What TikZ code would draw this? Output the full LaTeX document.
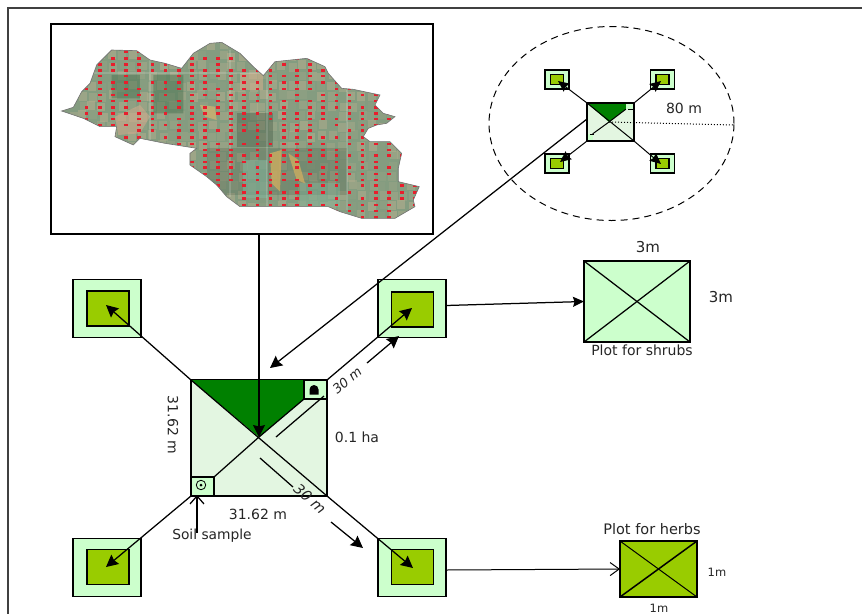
\documentclass[tikz,border=0pt]{standalone}
\usepackage{fontspec}
\setmainfont{DejaVu Sans}
\usetikzlibrary{arrows.meta,shapes.geometric}
\definecolor{plotlight}{HTML}{CCFFCC}
\definecolor{plotdark}{HTML}{99CC00}
\definecolor{mainlight}{HTML}{E3F6E1}
\definecolor{forest}{HTML}{008000}
\tikzset{
  x=1pt,y=-1pt,
  boxnode/.style={rectangle,inner sep=0pt,outer sep=0pt,draw=black},
  outerplot/.style={boxnode,fill=plotlight,line width=1.3pt,minimum width=#1},
  innerplot/.style={boxnode,fill=plotdark,line width=1.3pt,minimum width=#1},
  lbl/.style={inner sep=0pt,font=\fontsize{14}{16}\selectfont,text=black!85},
  smalllbl/.style={inner sep=0pt,font=\fontsize{14}{16}\selectfont,text=black!85},
  tinylbl/.style={inner sep=0pt,font=\fontsize{11.5}{13}\selectfont,text=black!85},
  conn/.style={draw=black,line width=1.25pt},
  arr/.style={conn,-{Stealth[length=12pt,width=12pt,inset=1.5pt]}},
  arrsmall/.style={conn,-{Stealth[length=11pt,width=10pt,inset=1.5pt]}},
  arropen/.style={conn,-{Straight Barb[length=9pt,width=13pt]}},
}
\begin{document}
\begin{tikzpicture}
\useasboundingbox (0,0) rectangle (862,614);
\fill[white] (0,0) rectangle (862,614);
% page frame (top and left only)
\draw[line width=1.2pt,black!75] (862,8) -- (8,8) -- (8,614);

% map frame
\node[boxnode,fill=white,line width=1.4pt,minimum width=382pt,minimum height=210pt] (mapframe) at (242,129) {};

% map
\begin{scope}[shift={(40,10)},x=0.3333pt,y=-0.3333pt]
\def\mapoutline{(65,303) -- (100,292) -- (125,245) -- (150,220) -- (170,165) -- (215,120) -- (290,122) -- (330,150) -- (375,160) -- (425,175) -- (460,130) -- (510,100) -- (545,97) -- (600,130) -- (640,170) -- (670,197) -- (705,155) -- (800,145) -- (855,170) -- (865,190) -- (905,235) -- (940,238) -- (1020,255) -- (1005,285) -- (1030,310) -- (1065,320) -- (1040,340) -- (1010,345) -- (985,355) -- (970,380) -- (990,395) -- (1050,395) -- (1085,430) -- (1075,475) -- (1075,515) -- (1138,530) -- (1120,570) -- (1125,590) -- (1065,625) -- (965,625) -- (900,605) -- (865,590) -- (600,590) -- (560,560) -- (530,525) -- (500,500) -- (450,465) -- (450,430) -- (470,415) -- (375,400) -- (300,385) -- (280,405) -- (225,380) -- (230,350) -- (180,350) -- (130,325) -- cycle}
\begin{scope}
\clip \mapoutline;
\fill[color={rgb,255:red,132;green,156;blue,128}] (50,90) rectangle (1150,630);
\pgfmathsetseed{17}
\foreach \cx in {50,80,...,1130}{\foreach \cy in {90,120,...,610}{
  \pgfmathsetmacro{\mx}{rnd*0.5}
  \pgfmathsetmacro{\px}{\cx+rnd*10}
  \pgfmathsetmacro{\py}{\cy+rnd*10}
  \fill[color={rgb,255:red,190;green,178;blue,145},opacity=\mx] (\px,\py) rectangle ++(24,26);
}}
\fill[color={rgb,255:red,60;green,105;blue,70},opacity=.4] (215,195) rectangle (300,265) (340,195) rectangle (430,310);
\fill[color={rgb,255:red,70;green,90;blue,70},opacity=.4] (590,310) rectangle (700,410);
\fill[color={rgb,255:red,60;green,75;blue,60},opacity=.22] (500,415) rectangle (920,555);
\fill[color={rgb,255:red,215;green,180;blue,110},opacity=.7] (480,285) -- (525,290) -- (530,330) -- (495,320) -- cycle;
\fill[color={rgb,255:red,210;green,175;blue,95},opacity=.75] (690,430) -- (725,420) -- (720,545) -- (695,520) -- cycle;
\fill[color={rgb,255:red,210;green,175;blue,95},opacity=.75] (745,430) -- (775,450) -- (795,520) -- (770,510) -- cycle;
\fill[color={rgb,255:red,205;green,170;blue,140},opacity=.6] (225,320) -- (300,285) -- (330,320) -- (300,370) -- (235,375) -- cycle;
\fill[color={rgb,255:red,130;green,185;blue,160},opacity=.5] (610,450) rectangle (680,565);
\fill[color={rgb,255:red,130;green,185;blue,160},opacity=.4] (780,520) rectangle (900,590);
\fill[color={rgb,255:red,205;green,175;blue,140},opacity=.6] (600,190) rectangle (670,240);
\draw[white,opacity=.15,line width=2pt] (330,100) -- (330,400) (570,120) -- (570,560) (920,240) -- (920,600) (60,190) -- (680,190) (680,190) -- (680,600);
\pgfmathsetseed{5}
\foreach \col [count=\i] in {140,180,219,259,298,338,377,417,456,495,535,574,613,653,692,732,771,811,850,890,929,968,1008,1047,1087,1126}{
 \foreach \row [count=\j] in {125,145,163,182,198,217,237,255,273,293,310,327,345,362,382,402,420,437,456,473,492,510,527,547,566,585,603,622}{
  \pgfmathtruncatemacro{\dotskip}{rnd<0.17 ? 1 : 0}
  \ifnum\dotskip=0
    \fill[color={rgb,255:red,232;green,30;blue,45}] (\col-5.5,\row-4) rectangle (\col+5.5,\row+4);
  \fi
 }
}
\end{scope}
\draw[black!55,line width=.6pt] \mapoutline;
\end{scope}

% central plot
\node[boxnode,fill=mainlight,line width=1.4pt,minimum width=136pt,minimum height=116pt] (main) at (259,438) {};
\fill[forest] (main.north west) -- (259,437) -- (304,399) -- (304,380) -- cycle;
\node[boxnode,fill=plotlight,line width=1.1pt,minimum width=23pt,minimum height=19pt] (nesq) at (315.5,389.5) {};
\node[boxnode,fill=plotlight,line width=1.1pt,minimum width=23pt,minimum height=19pt] (swsq) at (202.5,486.5) {};
\coordinate (mc) at (259,437);
\draw[conn] (main.north west) -- (main.south east);
\draw[conn] (mc) -- (nesq.south west);
\draw[conn] (mc) -- (swsq.north east);
\fill[black] (309.5,394.5) -- (309.5,389.5) arc[start angle=180,end angle=0,x radius=4.5pt,y radius=4.5pt] -- (318.5,394.5) -- cycle;
\node[circle,draw=black,line width=.8pt,inner sep=0pt,minimum size=9.5pt] (ring) at (201,485) {};
\node[circle,fill=black,inner sep=0pt,minimum size=3pt] (ringdot) at (201,485) {};

% satellite plots
\foreach \n/\ox/\oy/\ix/\iy in {nw/107/308.5/108/308.5, sw/107/567.5/108/567, ne/412/308.5/412.5/309.5, se/412/567.5/412.5/567}{
  \node[outerplot=68pt,minimum height=58pt] (\n out) at (\ox,\oy) {};
  \node[innerplot=42pt,minimum height=35pt] (\n in) at (\ix,\iy) {};
}
\coordinate (nwtip) at (106,305);
\coordinate (swtip) at (106,567);
\coordinate (netip) at (412,308);
\coordinate (setip) at (413,568);
\draw[arr] (main.north west) -- (nwtip);
\draw[arr] (main.south west) -- (swtip);
\draw[arr] (main.north east) -- (netip);
\draw[arr] (main.south east) -- (setip);

% short distance marks
\coordinate (a1s) at (367,363); \coordinate (a1e) at (399,336);
\coordinate (a2s) at (331,522); \coordinate (a2e) at (363,548);
\coordinate (l1s) at (276,437); \coordinate (l1e) at (324,396);
\coordinate (l2s) at (260,458); \coordinate (l2e) at (293,487);
\draw[arr] (a1s) -- (a1e);
\draw[arr] (a2s) -- (a2e);
\draw[conn] (l1s) -- (l1e);
\draw[conn] (l2s) -- (l2e);

% shrubs plot
\node[boxnode,fill=plotlight,line width=2.2pt,minimum width=106pt,minimum height=81pt] (shrub) at (637,301.5) {};
\draw[conn] (shrub.north west) -- (shrub.south east);
\draw[conn] (shrub.south west) -- (shrub.north east);
\draw[conn,-{Stealth[length=11pt,width=10pt,inset=1.5pt]}] (neout.east) ++(0,-3) -- (shrub.west);

% herbs plot
\node[boxnode,fill=plotdark,line width=2.4pt,minimum width=77pt,minimum height=56pt] (herb) at (658.5,569) {};
\draw[line width=1pt] (herb.north west) -- (herb.south east);
\draw[line width=1.5pt] (herb.south west) -- (herb.north east);
\draw[arropen,line width=1pt] (seout.east) ++(0,2.5) -- (herb.west);

% inset ellipse
\node[ellipse,draw=black,line width=1pt,minimum width=245pt,minimum height=194pt,inner sep=0pt,dash pattern=on 7pt off 5pt] (zone) at (611.5,123.5) {};
\node[boxnode,fill=mainlight,line width=1.1pt,minimum width=47pt,minimum height=38pt] (mini) at (610.5,122) {};
\coordinate (minic) at (609,122);
\fill[forest] (mini.north west) -- (minic) -- (626,109) -- (626,103) -- cycle;
\node[rectangle,fill=plotlight,inner sep=0pt,minimum width=8pt,minimum height=6pt] (minine) at (630,106) {};
\node[rectangle,fill=plotlight,inner sep=0pt,minimum width=5pt,minimum height=7pt] (minisw) at (590,137.5) {};
\draw[line width=1pt] (mini.north west) -- (mini.south east);
\draw[line width=1pt] (minic) -- (minisw.north east);
\draw[line width=1pt] (minic) -- (minine.south west);
\draw[line width=1.1pt] (mini.north west) rectangle (mini.south east);
\draw[line width=1pt] (628,103) -- (634,103) (628,109) -- (633,109) (590,134) -- (594,134);
\coordinate (zoneedge) at (734,125);
\draw[line width=1pt,dotted] (minic) -- (zoneedge);
\foreach \n/\cx/\cy in {mnw/557/79.5, mne/662.5/79.5, msw/557/163.5, mse/662.5/163.5}{
  \node[outerplot=24pt,minimum height=19pt,line width=1.1pt] (\n out) at (\cx,\cy) {};
  \node[innerplot=13pt,minimum height=10pt,line width=1.1pt] (\n in) at (\cx,\cy) {};
}
\coordinate (mnwtip) at (558,81);
\coordinate (mnetip) at (661,81);
\coordinate (mswtip) at (560,162);
\coordinate (msetip) at (661,164);
\draw[arrsmall,line width=1pt] (mini.north west) -- (mnwtip);
\draw[arrsmall,line width=1pt] (mini.north east) -- (mnetip);
\draw[arrsmall,line width=1pt] (mini.south west) -- (mswtip);
\draw[arrsmall,line width=1pt] (mini.south east) -- (msetip);

% long connectors
\coordinate (longs) at (587,119);
\coordinate (longe) at (270,368);
\draw[arr] (longs) -- (longe);
\draw[arr] (mapframe.south -| mc) -- (mc);

% soil sample
\coordinate (soils) at (197,533);
\draw[conn,-{Straight Barb[length=8pt,width=14pt]}] (soils) -- (197,495);

% labels
\node[lbl] (t1) at (684,108) {80 m};
\node[lbl,font=\fontsize{15}{17}\selectfont] (t2) at (648,247) {3m};
\node[lbl,font=\fontsize{15}{17}\selectfont] (t3) at (721,297) {3m};
\node[smalllbl] (t4) at (642,350) {Plot for shrubs};
\node[smalllbl,font=\fontsize{14.5}{16}\selectfont] (t5) at (652,529) {Plot for herbs};
\node[tinylbl] (t6) at (717,572) {1m};
\node[tinylbl] (t7) at (659,608) {1m};
\node[lbl] (t8) at (357,437) {0.1 ha};
\node[lbl] (t9) at (258,514) {31.62 m};
\node[lbl,rotate=-90] (t10) at (173,425) {31.62 m};
\node[smalllbl,font=\fontsize{13.8}{15}\selectfont] (t11) at (212,536) {Soil sample};
\node[lbl,rotate=40,font=\fontsize{13}{15}\selectfont\itshape] (t12) at (347,380) {30 m};
\node[lbl,rotate=-42,font=\fontsize{14.5}{16}\selectfont\itshape] (t13) at (310,499) {30 m};
\end{tikzpicture}
\end{document}
